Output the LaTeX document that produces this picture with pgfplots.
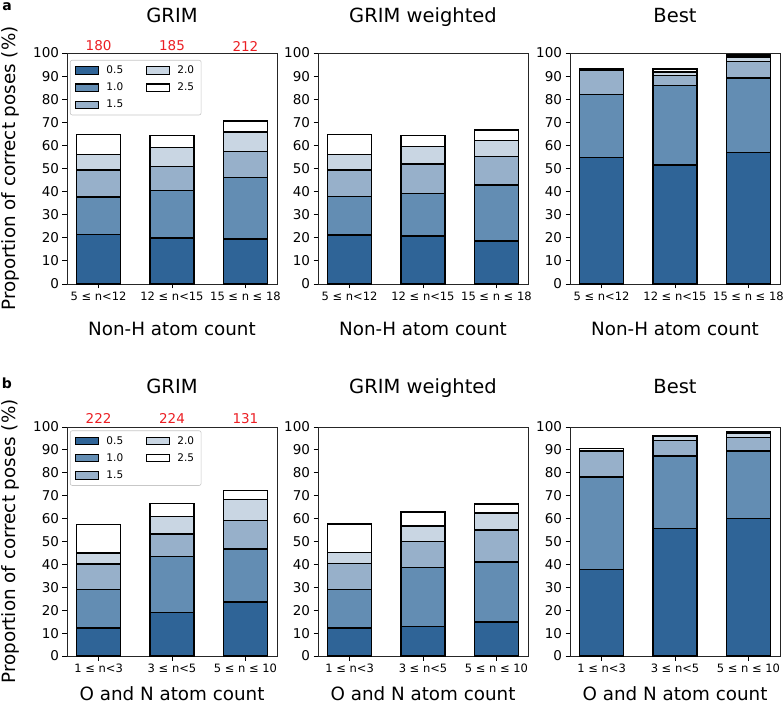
\documentclass[border=0pt]{standalone}
\usepackage{fontspec}
\setmainfont{DejaVu Sans}
\usepackage{pgfplots}
\pgfplotsset{compat=1.18}
\definecolor{cA}{RGB}{47,100,151}
\definecolor{cB}{RGB}{99,141,179}
\definecolor{cC}{RGB}{151,176,202}
\definecolor{cD}{RGB}{201,214,227}
\definecolor{cE}{RGB}{255,255,255}
\definecolor{cntred}{RGB}{235,30,35}
\newcommand{\fs}[1]{\fontsize{#1}{#1}\selectfont}
\pgfplotsset{
  panel/.style={
    scale only axis, width=210pt,
    ybar stacked, bar width=0.6,
    xmin=-0.43, xmax=2.43, ymin=0, ymax=100,
    xtick={0,1,2}, ytick={0,10,...,100},
    xtick pos=left, ytick pos=left,
    tick align=outside, major tick length=4.5pt,
    every tick/.style={black, line width=0.8pt},
    axis line style={black!85, line width=0.8pt},
    yticklabel style={font=\fs{13.5}},
    xticklabel style={font=\fs{11.5}},
    title style={font=\fs{19.5}, anchor=base},
    xlabel style={font=\fs{18.3}, anchor=center, inner sep=0pt},
    ylabel style={font=\fs{18.3}, anchor=center},
    /pgf/number format/assume math mode=true,
    clip=false,
    every axis plot/.append style={draw=black, line width=1.4pt},
    legend image code/.code={\draw[##1, sharp corners, draw=black, line width=1.1pt] (0pt,-3.7pt) rectangle (23pt,3.7pt); \path (28pt,0pt);},
    legend style={font=\fs{10.5}, draw=black!22, rounded corners=2pt, line width=0.6pt,
      inner xsep=5pt, inner ysep=3.5pt, row sep=4pt,
      /tikz/every even column/.append style={column sep=21pt}},
    legend cell align=left,
  },
  toprow/.style={height=231pt,
    title style={at={(axis description cs:0.5,1.108)}},
    xlabel style={at={(axis description cs:0.5,-0.195)}},
    ylabel style={at={(axis description cs:-0.271,0.5)}},
    xticklabels={{5 ≤ n<12},{12 ≤ n<15},{15 ≤ n ≤ 18}},
    xlabel={Non-H atom count}},
  botrow/.style={height=229pt,
    title style={at={(axis description cs:0.5,1.122)}},
    xlabel style={at={(axis description cs:0.5,-0.163)}},
    ylabel style={at={(axis description cs:-0.271,0.5)}},
    xticklabels={{1 ≤ n<3},{3 ≤ n<5},{5 ≤ n ≤ 10}},
    xlabel={O and N atom count}},
  leg/.style={legend columns=3, transpose legend,
    legend style={at={(axis description cs:0.014,#1)}, anchor=north west}},
}
\begin{document}
\begin{tikzpicture}[x=1pt,y=1pt]
\useasboundingbox (0,0) rectangle (784,704);
\node[font=\bfseries\fs{14}, anchor=center] at (7,697) {a};
\node[font=\bfseries\fs{14}, anchor=center] at (7,321) {b};

% ---------- Row a ----------
\begin{axis}[panel, toprow, leg=0.970, at={(67pt,420pt)}, anchor=south west,
  title={GRIM}, ylabel={Proportion of correct poses (\%)}]
\addplot[fill=cA] coordinates {(0,21.5) (1,19.9) (2,19.4)};
\addplot[fill=cB] coordinates {(0,16.2) (1,20.7) (2,26.8)};
\addplot[fill=cC] coordinates {(0,11.6) (1,10.3) (2,11.2)};
\addplot[fill=cD] coordinates {(0,6.8) (1,8.2) (2,8.4)};
\addplot[fill=cE] coordinates {(0,8.5) (1,5.1) (2,4.7)};
\legend{0.5,1.0,1.5,2.0,2.5}
\node[text=cntred, font=\fs{13.5}, anchor=center, yshift=7pt] at (axis cs:0,100) {180};
\node[text=cntred, font=\fs{13.5}, anchor=center, yshift=7pt] at (axis cs:1,100) {185};
\node[text=cntred, font=\fs{13.5}, anchor=center, yshift=7pt] at (axis cs:2,100) {212};
\end{axis}

\begin{axis}[panel, toprow, at={(318pt,420pt)}, anchor=south west, title={GRIM weighted}]
\addplot[fill=cA] coordinates {(0,21.2) (1,20.8) (2,18.6)};
\addplot[fill=cB] coordinates {(0,16.6) (1,18.4) (2,24.3)};
\addplot[fill=cC] coordinates {(0,11.5) (1,12.7) (2,12.2)};
\addplot[fill=cD] coordinates {(0,6.7) (1,7.5) (2,7.1)};
\addplot[fill=cE] coordinates {(0,8.7) (1,4.8) (2,4.5)};
\end{axis}

\begin{axis}[panel, toprow, at={(570pt,420pt)}, anchor=south west, title={Best}]
\addplot[fill=cA] coordinates {(0,54.7) (1,51.5) (2,57.0)};
\addplot[fill=cB] coordinates {(0,27.3) (1,34.3) (2,32.2)};
\addplot[fill=cC] coordinates {(0,10.3) (1,4.5) (2,7.0)};
\addplot[fill=cD] coordinates {(0,0.7) (1,1.5) (2,2.1)};
\addplot[fill=cE] coordinates {(0,0.4) (1,1.2) (2,0.8)};
\end{axis}

% ---------- Row b ----------
\begin{axis}[panel, botrow, leg=0.985, at={(67pt,48pt)}, anchor=south west,
  title={GRIM}, ylabel={Proportion of correct poses (\%)}]
\addplot[fill=cA] coordinates {(0,12.2) (1,18.9) (2,23.6)};
\addplot[fill=cB] coordinates {(0,16.9) (1,24.6) (2,23.1)};
\addplot[fill=cC] coordinates {(0,11.1) (1,9.8) (2,12.5)};
\addplot[fill=cD] coordinates {(0,4.8) (1,7.5) (2,9.1)};
\addplot[fill=cE] coordinates {(0,12.5) (1,5.9) (2,3.9)};
\legend{0.5,1.0,1.5,2.0,2.5}
\node[text=cntred, font=\fs{13.5}, anchor=center, yshift=8.5pt] at (axis cs:0,100) {222};
\node[text=cntred, font=\fs{13.5}, anchor=center, yshift=8.5pt] at (axis cs:1,100) {224};
\node[text=cntred, font=\fs{13.5}, anchor=center, yshift=8.5pt] at (axis cs:2,100) {131};
\end{axis}

\begin{axis}[panel, botrow, at={(318pt,48pt)}, anchor=south west, title={GRIM weighted}]
\addplot[fill=cA] coordinates {(0,12.2) (1,12.8) (2,14.8)};
\addplot[fill=cB] coordinates {(0,16.9) (1,25.9) (2,26.3)};
\addplot[fill=cC] coordinates {(0,11.3) (1,11.4) (2,14.0)};
\addplot[fill=cD] coordinates {(0,4.7) (1,6.6) (2,7.4)};
\addplot[fill=cE] coordinates {(0,12.5) (1,6.1) (2,3.9)};
\end{axis}

\begin{axis}[panel, botrow, at={(570pt,48pt)}, anchor=south west, title={Best}]
\addplot[fill=cA] coordinates {(0,37.9) (1,55.7) (2,60.0)};
\addplot[fill=cB] coordinates {(0,40.3) (1,31.7) (2,29.5)};
\addplot[fill=cC] coordinates {(0,11.0) (1,6.8) (2,5.9)};
\addplot[fill=cD] coordinates {(0,0.6) (1,1.6) (2,1.8)};
\addplot[fill=cE] coordinates {(0,0.7) (1,0.4) (2,0.7)};
\end{axis}
\end{tikzpicture}
\end{document}
